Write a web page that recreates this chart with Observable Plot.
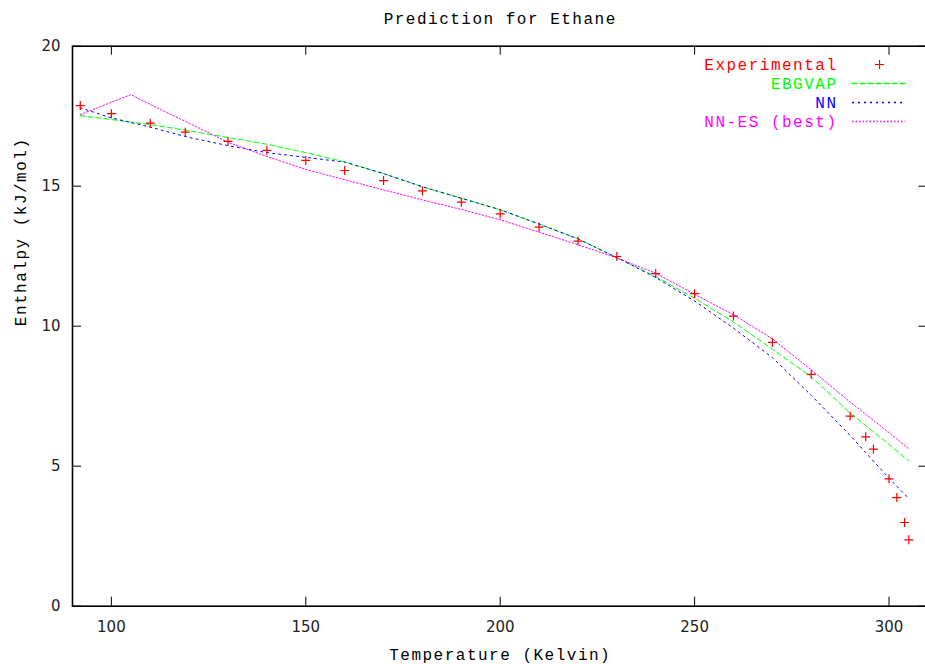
<!DOCTYPE html>
<html><head><meta charset="utf-8">
<script src="https://cdn.jsdelivr.net/npm/d3@7"></script>
<script src="https://cdn.jsdelivr.net/npm/@observablehq/plot@0.6"></script>
<style>
html,body{margin:0;padding:0;background:#fff;overflow:hidden;}
svg{display:block;max-width:none;}
</style></head><body><div id="chart"></div><script>
// ---- texts ----
const chartTitle = "Prediction for Ethane";
const xLabel = "Temperature (Kelvin)";
const yLabel = "Enthalpy (kJ/mol)";
const xTicks = [100, 150, 200, 250, 300];
const yTicks = [0, 5, 10, 15, 20];
const xDomain = [90, 310];
const yDomain = [0, 20];
const seriesNames = ["Experimental", "EBGVAP", "NN", "NN-ES (best)"];

// ---- data ----
const expT = [92, 100, 110, 119, 130, 140, 150, 160, 170, 180, 190, 200, 210, 220, 230, 240, 250, 260, 270, 280, 290, 294, 296, 300, 302, 304, 305.1];
const expH = [17.88, 17.59, 17.25, 16.93, 16.60, 16.28, 15.92, 15.56, 15.20, 14.83, 14.43, 14.01, 13.54, 13.04, 12.49, 11.88, 11.16, 10.36, 9.42, 8.28, 6.79, 6.05, 5.61, 4.55, 3.88, 2.99, 2.37];

const ebgT = [92, 100, 110, 120, 130, 140, 150, 160, 170, 180, 190, 200, 210, 220, 230, 240, 250, 260, 270, 280, 290, 300, 305.1];
const ebgH = [17.52, 17.38, 17.20, 16.98, 16.74, 16.50, 16.20, 15.87, 15.45, 14.98, 14.57, 14.16, 13.65, 13.12, 12.45, 11.77, 11.00, 10.15, 9.18, 8.20, 6.90, 5.78, 5.18];

const nnT = [92, 100, 110, 120, 130, 140, 150, 160, 170, 180, 190, 200, 210, 220, 230, 240, 250, 260, 270, 280, 290, 300, 305.1];
const nnH = [17.80, 17.44, 17.11, 16.74, 16.45, 16.20, 16.03, 15.86, 15.45, 14.98, 14.57, 14.16, 13.65, 13.12, 12.45, 11.74, 10.90, 9.93, 8.88, 7.53, 6.10, 4.57, 3.84];

const nnesT = [92, 105, 110, 120, 130, 140, 150, 160, 170, 180, 190, 200, 210, 220, 230, 240, 250, 260, 270, 280, 290, 300, 305.1];
const nnesH = [17.56, 18.27, 17.92, 17.25, 16.57, 16.06, 15.60, 15.23, 14.87, 14.51, 14.17, 13.80, 13.36, 12.91, 12.44, 11.89, 11.14, 10.41, 9.55, 8.44, 7.29, 6.20, 5.62];

// ---- build ----
const toRows = (T, H) => T.map((t, i) => ({t, h: H[i]}));
const expRows = toRows(expT, expH);
const lineSeries = [
  {rows: toRows(ebgT, ebgH), name: seriesNames[1], color: "#00ff00", dash: "5,3"},
  {rows: toRows(nnT, nnH), name: seriesNames[2], color: "#0000ff", dash: "2,4"},
  {rows: toRows(nnesT, nnesH), name: seriesNames[3], color: "#ff00ff", dash: "1.5,2"}
];

const plusSymbol = {
  draw(ctx, size) {
    const r = Math.sqrt(size / Math.PI);
    ctx.moveTo(-r, 0); ctx.lineTo(r, 0);
    ctx.moveTo(0, -r); ctx.lineTo(0, r);
  }
};

const W = 929, H = 664, mL = 72, mR = 1.6, mT = 45.7, mB = 58.3;
const pw = W - mL - mR, ph = H - mT - mB;
const mono = "'Liberation Mono', 'DejaVu Sans Mono', monospace";
const tick = 9;

const legendTextDx = 837 - (W - mR);
const rowDy = i => 18.3 + 19 * i;

const marks = [
  Plot.axisX(xTicks, {tickSize: 0, tickPadding: 15, label: null, fill: "#222"}),
  Plot.axisY(yTicks, {tickSize: 0, tickPadding: 12, label: null, fill: "#222"}),
  Plot.ruleY(yTicks, {insetRight: pw - tick, stroke: "#000"}),
  Plot.ruleY(yTicks, {insetLeft: pw - tick, stroke: "#000"}),
  Plot.ruleX(xTicks, {insetTop: ph - tick, stroke: "#000"}),
  Plot.ruleX(xTicks, {insetBottom: ph - tick, stroke: "#000"}),
  Plot.frame({stroke: "#000", strokeWidth: 1.6}),
  ...lineSeries.map(s => Plot.line(s.rows, {x: "t", y: "h", stroke: s.color, strokeWidth: 1, strokeDasharray: s.dash})),
  Plot.dot(expRows, {x: "t", y: "h", symbol: plusSymbol, r: 4.5, stroke: "#ff0000", strokeWidth: 1.2, fill: "none"}),
  // title and axis labels
  Plot.text([chartTitle], {frameAnchor: "top", lineAnchor: "middle", dy: -27, fontFamily: mono, fontSize: 16, fill: "#000"}),
  Plot.text([xLabel], {frameAnchor: "bottom", lineAnchor: "middle", dy: 49, fontFamily: mono, fontSize: 16, fill: "#000"}),
  Plot.text([yLabel], {frameAnchor: "left", lineAnchor: "middle", dx: -52, rotate: -90, fontFamily: mono, fontSize: 16, fill: "#000"}),
  // legend
  Plot.text([seriesNames[0]], {frameAnchor: "top-right", lineAnchor: "middle", dx: legendTextDx, dy: rowDy(0), textAnchor: "end", fontFamily: mono, fontSize: 16, fill: "#ff0000"}),
  Plot.dot([seriesNames[0]], {frameAnchor: "top-right", dx: 879 - (W - mR), dy: rowDy(0), symbol: plusSymbol, r: 4.5, stroke: "#ff0000", strokeWidth: 1.2, fill: "none"}),
  ...lineSeries.flatMap((s, i) => [
    Plot.text([s.name], {frameAnchor: "top-right", lineAnchor: "middle", dx: legendTextDx, dy: rowDy(i + 1), textAnchor: "end", fontFamily: mono, fontSize: 16, fill: s.color}),
    Plot.ruleY([yDomain[1]], {dy: rowDy(i + 1), insetLeft: 852 - mL, insetRight: (W - mR) - 905, stroke: s.color, strokeWidth: 1.4, strokeDasharray: s.dash})
  ])
];

const chart = Plot.plot({
  width: W, height: H,
  marginLeft: mL, marginRight: mR, marginTop: mT, marginBottom: mB,
  style: {fontFamily: "'DejaVu Sans', sans-serif", fontSize: "15px", background: "#fff", overflow: "visible"},
  x: {domain: xDomain},
  y: {domain: yDomain},
  marks
});
chart.querySelectorAll('g[font-family*="Liberation Mono"]').forEach(g => g.setAttribute("letter-spacing", "1.5"));
document.getElementById("chart").appendChild(chart);
</script></body></html>
